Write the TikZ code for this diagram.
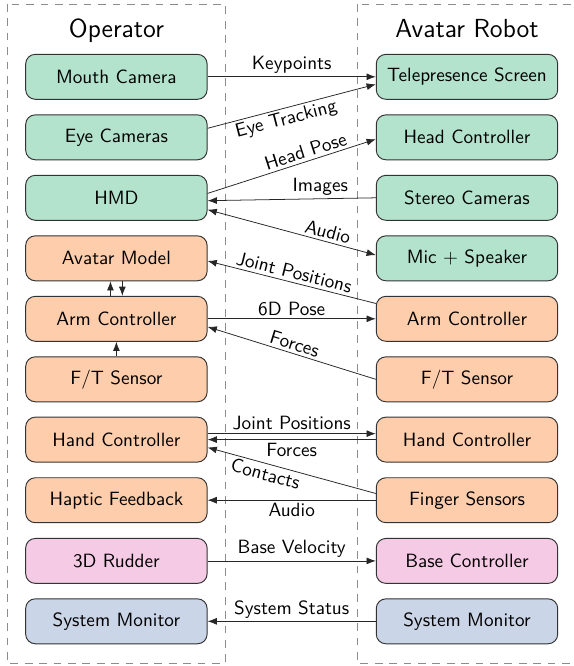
\documentclass[tikz,border=0pt]{standalone}
\usetikzlibrary{arrows.meta,calc}
\definecolor{cgreen}{HTML}{B3E2CD}
\definecolor{corange}{HTML}{FDCDAC}
\definecolor{cpink}{HTML}{F4CAE4}
\definecolor{cblue}{HTML}{CBD5E8}
\begin{document}
\begin{tikzpicture}[x=0.5208pt,y=-0.5208pt,font=\sffamily,
  box/.style={draw=black!80,line width=0.5pt,rounded corners=5pt,minimum width=94.5pt,minimum height=23.4pt,inner sep=2pt},
  gbox/.style={box,fill=cgreen},
  obox/.style={box,fill=corange},
  pbox/.style={box,fill=cpink},
  bbox/.style={box,fill=cblue},
  frame/.style={draw=black!45,line width=0.4pt,dash pattern=on 4pt off 3.5pt},
  lbl/.style={font=\sffamily,inner sep=1.5pt},
  flow/.style={-{Latex},draw=black!85},
  both/.style={{Latex}-{Latex},draw=black!85},
  title/.style={font=\sffamily\fontsize{13.6}{16}\selectfont,anchor=base}]
\useasboundingbox (0,0) rectangle (574,666);
% frames
\draw[frame] (7.3,4) rectangle (225.3,663.3);
\draw[frame] (357.3,4) rectangle (575.3,663.3);
\node[title] (topL) at (116.5,37.3) {Operator};
\node[title] (topR) at (467,37.3) {Avatar Robot};
% left column
\node[gbox] (mouth)  at (116.4,76.8)  {Mouth Camera};
\node[gbox] (eye)    at (116.4,137.3) {Eye Cameras};
\node[gbox] (hmd)    at (116.4,197.8) {HMD};
\node[obox] (avatar) at (116.4,258.3) {Avatar Model};
\node[obox] (armL)   at (116.4,318.8) {Arm Controller};
\node[obox] (ftL)    at (116.4,379.3) {F/T Sensor};
\node[obox] (handL)  at (116.4,439.6) {Hand Controller};
\node[obox] (haptic) at (116.4,500.2) {Haptic Feedback};
\node[pbox] (rudder) at (116.4,560.9) {3D Rudder};
\node[bbox] (sysL)   at (116.4,621.3) {System Monitor};
% right column
\node[gbox] (tele)   at (467,76.8)  {Telepresence Screen};
\node[gbox] (headc)  at (467,137.3) {Head Controller};
\node[gbox] (stereo) at (467,197.8) {Stereo Cameras};
\node[gbox] (mic)    at (467,258.3) {Mic + Speaker};
\node[obox] (armR)   at (467,318.8) {Arm Controller};
\node[obox] (ftR)    at (467,379.3) {F/T Sensor};
\node[obox] (handR)  at (467,439.6) {Hand Controller};
\node[obox] (finger) at (467,500.2) {Finger Sensors};
\node[pbox] (basec)  at (467,560.9) {Base Controller};
\node[bbox] (sysR)   at (467,621.3) {System Monitor};
% connectors
\draw[flow] (mouth) -- node[lbl,above]{Keypoints} (tele);
\draw[flow] ([yshift=4.7pt]eye.east) -- node[lbl,below,sloped,pos=0.45]{Eye Tracking} ([yshift=-3.9pt]tele.west);
\draw[flow] ([yshift=2.3pt]hmd.east) -- node[lbl,above,sloped,pos=0.6]{Head Pose} ([yshift=-1pt]headc.west);
\draw[flow] (stereo.west) -- node[lbl,above,pos=0.33]{Images} ([yshift=-1.5pt]hmd.east);
\draw[both] ([yshift=-6.2pt]hmd.east) -- node[lbl,above,sloped,pos=0.7]{Audio} ([yshift=1.7pt]mic.west);
\draw[flow] ([yshift=8pt]armR.west) -- node[lbl,above,sloped]{Joint Positions} ([yshift=-1.4pt]avatar.east);
\draw[flow] (armL.east) -- node[lbl,above]{6D Pose} (armR.west);
\draw[flow] (ftR.west) -- node[lbl,above,sloped]{Forces} ([yshift=-4.2pt]armL.east);
\draw[flow] ([xshift=-3.1pt]armL.north) -- ([xshift=-3.1pt]avatar.south);
\draw[flow] ([xshift=3.1pt]avatar.south) -- ([xshift=3.1pt]armL.north);
\draw[flow] (ftL) -- (armL);
\draw[flow] ([yshift=3.1pt]handL.east) -- node[lbl,above]{Joint Positions} ([yshift=3.1pt]handR.west);
\draw[flow] (handR.west) -- node[lbl,below]{Forces} (handL.east);
\draw[flow] ([yshift=3.5pt]finger.west) -- node[lbl,below,sloped,pos=0.64]{Contacts} ([yshift=-4.1pt]handL.east);
\draw[flow] (finger.west) -- node[lbl,below]{Audio} (haptic.east);
\draw[flow] (rudder) -- node[lbl,above]{Base Velocity} (basec);
\draw[flow] (sysR) -- node[lbl,above]{System Status} (sysL);
\end{tikzpicture}
\end{document}
